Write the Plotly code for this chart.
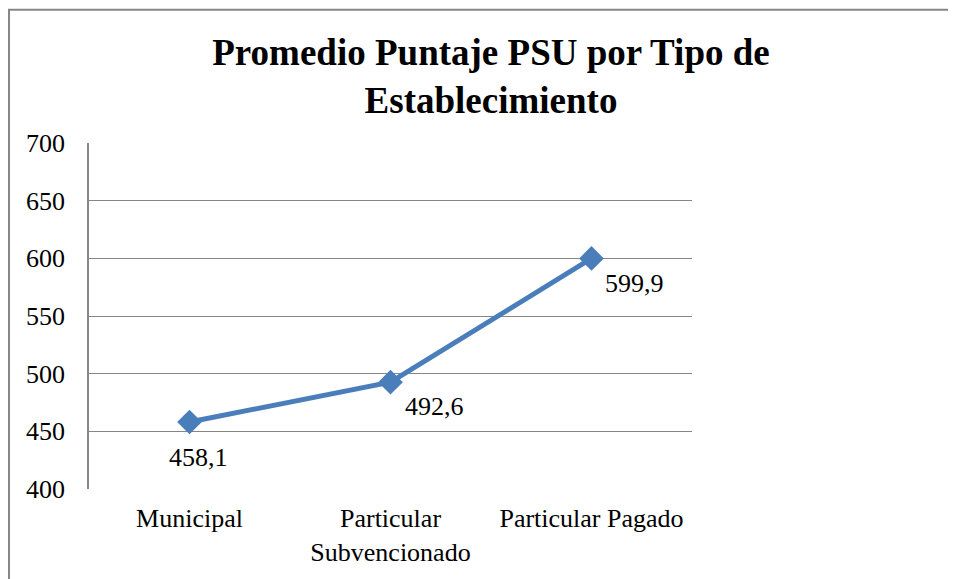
import plotly.graph_objects as go

categorias = ["Municipal", "Particular<br>Subvencionado", "Particular Pagado"]
puntajes = [458.1, 492.6, 599.9]
etiquetas = ["458,1", "492,6", "599,9"]
y_ticks = [400, 450, 500, 550, 600, 650, 700]

AZUL = "#4A7EBB"
GRIS = "#868686"
FUENTE = "Liberation Serif"

fig = go.Figure()
fig.add_trace(go.Scatter(
    x=categorias,
    y=puntajes,
    mode="lines+markers",
    line=dict(color=AZUL, width=5),
    marker=dict(symbol="diamond", size=19, color=AZUL),
    hoverinfo="skip",
    showlegend=False,
))

# data labels (Excel style, below and to the right of each point)
desplaz = [(9, -36), (44, -24), (43, -25)]
for cat, val, txt, (dx, dy) in zip(categorias, puntajes, etiquetas, desplaz):
    fig.add_annotation(
        x=cat, y=val, text=txt, showarrow=False,
        xshift=dx, yshift=dy,
        font=dict(family=FUENTE, size=26, color="black"),
    )

# outer chart border (runs past the right/bottom edge of the picture)
fig.add_shape(
    type="rect", xref="paper", yref="paper",
    x0=-0.1327, x1=1.6, y0=-0.5, y1=1.385,
    line=dict(color=GRIS, width=2), fillcolor="rgba(0,0,0,0)",
)

# the page puts the figure 8px from the top-left corner
fig.update_layout(
    width=948, height=571,
    margin=dict(l=81, r=264, t=135, b=88),
    paper_bgcolor="white",
    plot_bgcolor="white",
    font=dict(family=FUENTE, size=26, color="black"),
    title=dict(
        text="<b>Promedio Puntaje PSU por Tipo de<br>Establecimiento</b>",
        x=483 / 948, xanchor="center", xref="container",
        y=1 - 57 / 571, yanchor="top", yref="container",
        font=dict(family=FUENTE, size=37, color="black"),
    ),
    xaxis=dict(
        range=[-0.5, 2.5],
        showgrid=False,
        showline=False,
        zeroline=False,
        ticks="",
        ticklabelstandoff=11,
    ),
    yaxis=dict(
        range=[400, 700],
        tickvals=y_ticks,
        showgrid=True,
        gridcolor=GRIS,
        gridwidth=1.2,
        showline=True,
        linecolor=GRIS,
        linewidth=1.5,
        zeroline=False,
        ticks="",
        ticklabelstandoff=17,
    ),
)

fig.write_html("out.html")
